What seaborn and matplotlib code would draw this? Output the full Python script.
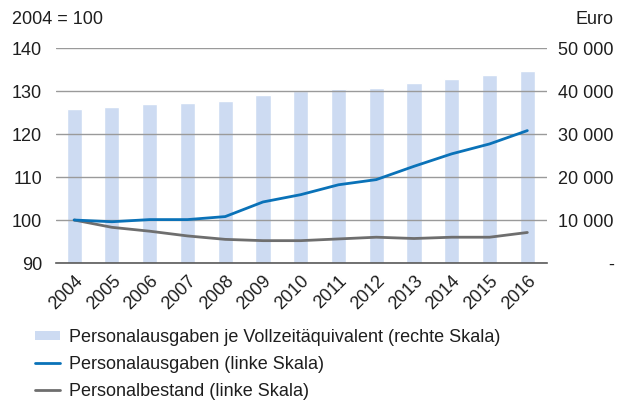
import numpy as np
import pandas as pd
import matplotlib
matplotlib.use("Agg")
import matplotlib.pyplot as plt
from matplotlib.patches import Patch
from matplotlib.lines import Line2D
import seaborn as sns

years = ["2004", "2005", "2006", "2007", "2008", "2009", "2010",
         "2011", "2012", "2013", "2014", "2015", "2016"]
ausgaben_je_vzae = [35900, 36200, 37000, 37300, 37800, 39100, 40100,
                    40500, 40800, 41900, 42900, 43700, 44600]
personalausgaben = [100.0, 99.6, 100.1, 100.1, 100.8, 104.2, 105.9,
                    108.2, 109.4, 112.5, 115.4, 117.7, 120.8]
personalbestand = [100.0, 98.3, 97.4, 96.3, 95.5, 95.2, 95.2,
                   95.6, 96.0, 95.7, 96.0, 96.0, 97.1]

left_ticks = [90, 100, 110, 120, 130, 140]
right_ticks = [0, 10000, 20000, 30000, 40000, 50000]
right_labels = ["-", "10 000", "20 000", "30 000", "40 000", "50 000"]

bar_color = "#cddbf2"
blue = "#0a72b8"
gray = "#6e6e6e"
text_color = "#1e1e1e"

sns.set_theme(style="white")
plt.rcParams["font.family"] = ["Liberation Sans", "DejaVu Sans"]
plt.rcParams["font.size"] = 13

df = pd.DataFrame({
    "year": years,
    "pos": np.arange(len(years)),
    "vzae": ausgaben_je_vzae,
    "ausgaben": personalausgaben,
    "bestand": personalbestand,
})

fig = plt.figure(figsize=(6.17, 4.04), dpi=100)
ax = fig.add_axes([0.0908, 0.349, 0.7957, 0.532])
ax2 = ax.twinx()

# bars on the right (Euro) scale
sns.barplot(data=df, x="year", y="vzae", color=bar_color, width=0.4,
            saturation=1, ax=ax2, zorder=1)
ax2.set_ylim(0, 50000)
ax2.set_yticks(right_ticks)
ax2.set_yticklabels(right_labels)
ax2.set_ylabel("")
ax2.set_xlabel("")

# lines on the left (index) scale
ax.set_zorder(ax2.get_zorder() + 1)
ax.patch.set_visible(False)
sns.lineplot(data=df, x="pos", y="ausgaben", color=blue, linewidth=2.0,
             ax=ax, zorder=4)
sns.lineplot(data=df, x="pos", y="bestand", color=gray, linewidth=2.0,
             ax=ax, zorder=3)
ax.set_ylim(90, 140)
ax.set_yticks(left_ticks)
ax.set_xlim(-0.48, 12.52)
ax.set_xticks(df["pos"])
ax.set_xticklabels(years, rotation=45, ha="right", rotation_mode="anchor")
ax.set_xlabel("")
ax.set_ylabel("")

ax.grid(axis="y", color="#9a9a9a", linewidth=1.0, zorder=2)
ax.grid(axis="x", visible=False)
ax2.grid(False)

for a in (ax, ax2):
    for side in ("left", "right", "top", "bottom"):
        a.spines[side].set_visible(False)
ax.spines["bottom"].set_visible(True)
ax.spines["bottom"].set_color("#5a5a5a")
ax.spines["bottom"].set_linewidth(1.2)

ax.tick_params(axis="y", length=0, pad=10, labelsize=13, labelcolor=text_color)
ax.tick_params(axis="x", length=0, pad=7, labelsize=13, labelcolor=text_color)
ax2.tick_params(axis="y", length=0, pad=48, labelsize=13, labelcolor=text_color)
ax2.tick_params(axis="x", length=0, labelbottom=False)
for lab in ax2.get_yticklabels():
    lab.set_horizontalalignment("right")

fig.text(0.019, 0.94, "2004 = 100", fontsize=13, color=text_color,
         ha="left", va="baseline")
fig.text(0.995, 0.94, "Euro", fontsize=13, color=text_color,
         ha="right", va="baseline")

handles = [
    Patch(facecolor=bar_color, edgecolor="none"),
    Line2D([], [], color=blue, linewidth=2.0),
    Line2D([], [], color=gray, linewidth=2.0),
]
labels = [
    "Personalausgaben je Vollzeitäquivalent (rechte Skala)",
    "Personalausgaben (linke Skala)",
    "Personalbestand (linke Skala)",
]
fig.legend(handles, labels, loc="upper left", bbox_to_anchor=(0.057, 0.186),
           frameon=False, fontsize=13, handlelength=1.4, handleheight=0.45,
           handletextpad=0.45, labelspacing=0.55, borderaxespad=0,
           borderpad=0, labelcolor=text_color)

fig.savefig("out.png", dpi=100)
